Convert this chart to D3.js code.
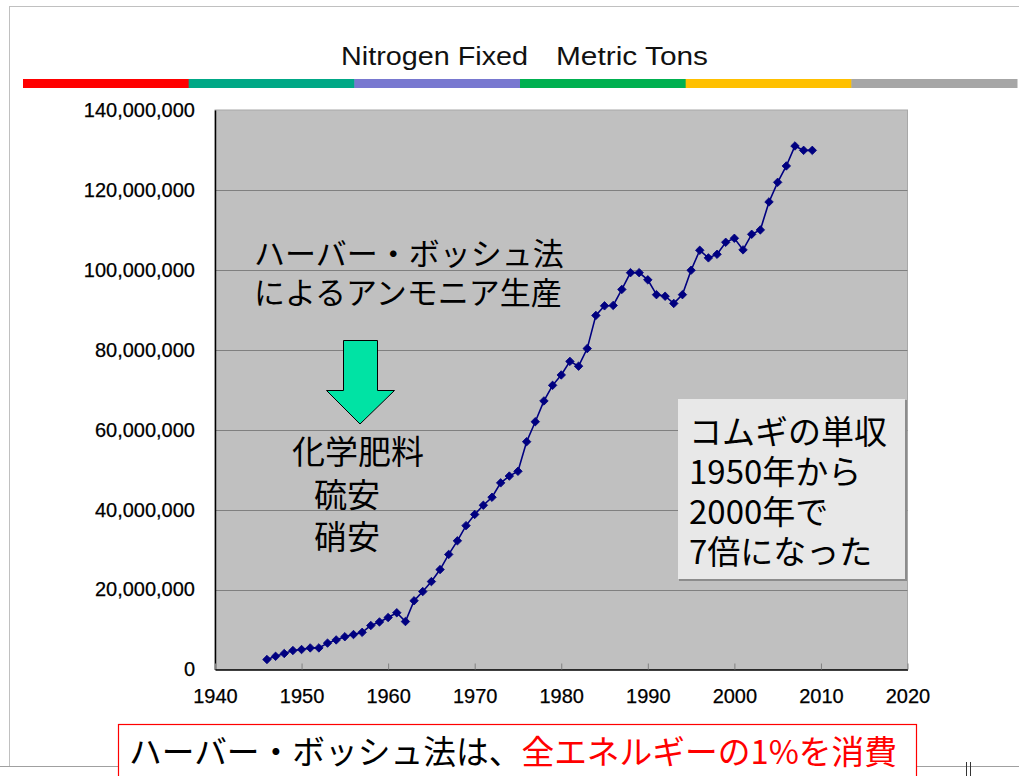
<!DOCTYPE html>
<html><head><meta charset="utf-8">
<script src="https://cdn.jsdelivr.net/npm/d3@7"></script>
<style>html,body{margin:0;padding:0;background:#fff;}svg{display:block;}</style>
</head><body>
<svg id="chart" width="1019" height="776"></svg>
<script>
// ---- data ----
const years = [1946,1947,1948,1949,1950,1951,1952,1953,1954,1955,1956,1957,1958,1959,
  1960,1961,1962,1963,1964,1965,1966,1967,1968,1969,1970,1971,1972,1973,1974,1975,
  1976,1977,1978,1979,1980,1981,1982,1983,1984,1985,1986,1987,1988,1989,1990,1991,
  1992,1993,1994,1995,1996,1997,1998,1999,2000,2001,2002,2003,2004,2005,2006,2007,2008,2009];
const nitrogenMt = [2.5,3.3,4.0,4.75,5.0,5.4,5.4,6.6,7.4,8.2,8.75,9.3,11.0,11.9,
  13.0,14.2,12.0,17.2,19.5,22.0,25.0,28.8,32.2,36.0,38.8,41.1,43.1,46.7,48.4,49.6,
  57.0,62.0,67.2,71.1,73.7,77.1,75.9,80.3,88.6,91.0,91.1,95.1,99.3,99.3,97.5,93.8,
  93.4,91.6,93.8,99.9,104.9,103.0,103.9,106.9,107.9,105.0,108.9,110.0,117.0,121.9,126.0,131.0,129.9,129.9];
const xTicks = [1940,1950,1960,1970,1980,1990,2000,2010,2020];
const yTicks = [0,20000000,40000000,60000000,80000000,100000000,120000000,140000000];
const bandColors = ["#FF0000","#00A886","#7878D0","#00B050","#FFC000","#A6A6A6"];
const titleParts = ["Nitrogen Fixed","Metric Tons"];
const noteLines = ["ハーバー・ボッシュ法","によるアンモニア生産"];
const fertLines = ["化学肥料","硫安","硝安"];
const wheatLines = ["コムギの単収","1950年から","2000年で","7倍になった"];
const bottomBlack = "ハーバー・ボッシュ法は、";
const bottomRed = "全エネルギーの1%を消費";

const data = years.map((yr,i)=>({year:yr, value:nitrogenMt[i]*1e6}));

const svg = d3.select("#chart");
const JP = "'Noto Sans CJK JP','Noto Sans',sans-serif";
const LS = "'Liberation Sans',Arial,sans-serif";

// slide frame
svg.append("line").attr("x1",9).attr("x2",1019).attr("y1",6.5).attr("y2",6.5).attr("stroke","#c0c0c0");
svg.append("line").attr("x1",9.5).attr("x2",9.5).attr("y1",6).attr("y2",766).attr("stroke","#c0c0c0");
svg.append("line").attr("x1",0).attr("x2",1019).attr("y1",766.5).attr("y2",766.5).attr("stroke","#a0a0a0");
svg.append("line").attr("x1",966.5).attr("x2",966.5).attr("y1",762).attr("y2",776).attr("stroke","#333");
svg.append("line").attr("x1",970.5).attr("x2",970.5).attr("y1",762).attr("y2",776).attr("stroke","#333");

// title
svg.append("text").attr("x",341).attr("y",65).attr("font-family",LS).attr("font-size",26)
  .attr("fill","#111").attr("textLength",187).attr("lengthAdjust","spacingAndGlyphs").text(titleParts[0]);
svg.append("text").attr("x",556).attr("y",65).attr("font-family",LS).attr("font-size",26)
  .attr("fill","#111").attr("textLength",152).attr("lengthAdjust","spacingAndGlyphs").text(titleParts[1]);

// colour band
const band = d3.scaleBand().domain(d3.range(bandColors.length)).range([23,1017]);
svg.selectAll("rect.band").data(bandColors).join("rect").attr("class","band")
  .attr("x",(d,i)=>band(i)).attr("y",79).attr("width",band.bandwidth()+0.5).attr("height",9).attr("fill",d=>d);

// scales
const x = d3.scaleLinear().domain([1940,2020]).range([215,907.5]);
const y = d3.scaleLinear().domain([0,140000000]).range([669.5,110]);

// plot area
svg.append("rect").attr("x",x(1940)).attr("y",y(140000000)).attr("width",x(2020)-x(1940))
  .attr("height",y(0)-y(140000000)).attr("fill","#C0C0C0").attr("stroke","#a8a8a8");

// grid
svg.selectAll("line.grid").data(yTicks.filter(v=>v>0 && v<140000000)).join("line").attr("class","grid")
  .attr("x1",x(1940)).attr("x2",x(2020)).attr("y1",d=>Math.round(y(d))+0.5).attr("y2",d=>Math.round(y(d))+0.5)
  .attr("stroke","#808080");

// y axis
const yAxis = svg.append("g").attr("transform",`translate(${x(1940)},0)`)
  .call(d3.axisLeft(y).tickValues(yTicks).tickFormat(d3.format(",")).tickSize(0).tickPadding(20));
yAxis.select(".domain").attr("stroke","#000").attr("stroke-width",1.5);
yAxis.selectAll("text").attr("font-family",LS).attr("font-size",20).attr("fill","#000")
  .attr("stroke","#000").attr("stroke-width",0.25);

// x axis
const xAxis = svg.append("g").attr("transform",`translate(0,${y(0)})`)
  .call(d3.axisBottom(x).tickValues(xTicks).tickFormat(d3.format("d")).tickSizeInner(-6).tickSizeOuter(0).tickPadding(19));
xAxis.select(".domain").attr("stroke","#000").attr("stroke-width",1.5);
xAxis.selectAll(".tick line").attr("stroke","#808080");
xAxis.selectAll("text").attr("font-family",LS).attr("font-size",20).attr("fill","#000")
  .attr("stroke","#000").attr("stroke-width",0.25);

// line + markers
svg.append("path").datum(data).attr("fill","none").attr("stroke","#000080").attr("stroke-width",1.6)
  .attr("d",d3.line().x(d=>x(d.year)).y(d=>y(d.value)));
const diamond = d3.symbol().type(d3.symbolSquare).size(36);
svg.selectAll("path.pt").data(data).join("path").attr("class","pt")
  .attr("d",diamond).attr("fill","#000080").attr("stroke","#000080").attr("stroke-width",0.8)
  .attr("transform",d=>`translate(${x(d.year)},${y(d.value)}) rotate(45)`);

// annotations
svg.selectAll("text.note").data(noteLines).join("text").attr("class","note")
  .attr("x",254).attr("y",(d,i)=>265+i*39).attr("font-family",JP).attr("font-size",31).attr("fill","#000")
  .text(d=>d);

// arrow
svg.append("path").attr("d","M343.5,340.5 H377.5 V390.5 H394.5 L360,424 L326.5,390.5 H343.5 Z")
  .attr("fill","#00E3A4").attr("stroke","#000").attr("stroke-width",1);

svg.append("text").attr("x",292).attr("y",464).attr("font-family",JP).attr("font-size",33).attr("fill","#000").text(fertLines[0]);
svg.append("text").attr("x",314).attr("y",507).attr("font-family",JP).attr("font-size",33).attr("fill","#000").text(fertLines[1]);
svg.append("text").attr("x",314).attr("y",549).attr("font-family",JP).attr("font-size",33).attr("fill","#000").text(fertLines[2]);

// wheat box
svg.append("rect").attr("x",679).attr("y",400).attr("width",228).attr("height",181).attr("fill","#8c8c8c");
svg.append("rect").attr("x",678).attr("y",399).attr("width",227).attr("height",180).attr("fill","#E8E8E8");
svg.selectAll("text.wheat").data(wheatLines).join("text").attr("class","wheat")
  .attr("x",689).attr("y",(d,i)=>444+i*40).attr("font-family",JP).attr("font-size",33).attr("fill","#000")
  .text(d=>d);

// bottom box
svg.append("rect").attr("x",118.5).attr("y",724.5).attr("width",798).attr("height",70)
  .attr("fill","#fff").attr("stroke","#FF0000").attr("stroke-width",1.2);
const bt = svg.append("text").attr("x",129).attr("y",764).attr("font-family",JP).attr("font-size",33)
  .attr("textLength",768).attr("lengthAdjust","spacingAndGlyphs");
bt.append("tspan").attr("fill","#000").text(bottomBlack);
bt.append("tspan").attr("fill","#FF0000").text(bottomRed);
</script>
</body></html>
